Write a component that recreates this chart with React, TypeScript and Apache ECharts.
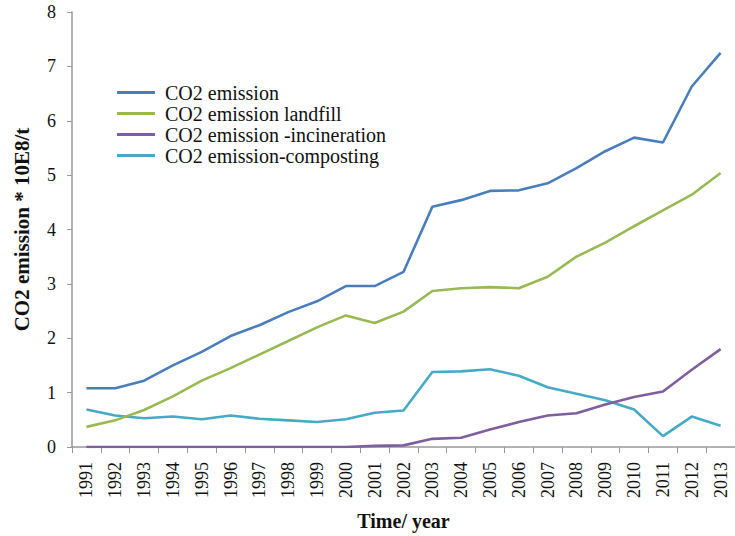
import React, { useEffect, useRef } from "react";
import * as echarts from "echarts";

const years = ["1991","1992","1993","1994","1995","1996","1997","1998","1999","2000","2001","2002","2003","2004","2005","2006","2007","2008","2009","2010","2011","2012","2013"];
const co2Total = [1.08,1.08,1.22,1.5,1.75,2.04,2.24,2.48,2.68,2.96,2.96,3.22,4.42,4.54,4.71,4.72,4.85,5.13,5.44,5.69,5.6,6.63,7.25];
const co2Landfill = [0.37,0.49,0.68,0.93,1.22,1.45,1.7,1.95,2.2,2.42,2.28,2.49,2.87,2.92,2.94,2.92,3.13,3.5,3.76,4.06,4.35,4.64,5.04];
const co2Incineration = [0,0,0,0,0,0,0,0,0,0,0.02,0.03,0.15,0.17,0.32,0.46,0.58,0.62,0.78,0.92,1.02,1.42,1.8];
const co2Composting = [0.69,0.58,0.53,0.56,0.51,0.58,0.52,0.49,0.46,0.51,0.63,0.67,1.38,1.39,1.43,1.31,1.1,0.98,0.86,0.69,0.2,0.56,0.39];
const seriesNames = ["CO2 emission","CO2 emission landfill","CO2 emission -incineration","CO2 emission-composting"];
const colors = ["#4A7EBB","#98B954","#7D5FA0","#46AAC5"];
const yTicks = [0,1,2,3,4,5,6,7,8];

const FONT = "'Liberation Serif', 'Times New Roman', serif";

export default function App() {
  const ref = useRef<HTMLDivElement>(null);
  useEffect(() => {
    if (!ref.current) return;
    const chart = echarts.init(ref.current, undefined, { renderer: "svg" });
    const data = [co2Total, co2Landfill, co2Incineration, co2Composting];
    chart.setOption({
      animation: false,
      backgroundColor: "#ffffff",
      textStyle: { fontFamily: FONT },
      grid: { left: 72, right: -8, top: 12, bottom: 88, containLabel: false },
      legend: {
        orient: "vertical",
        left: 117,
        top: 82,
        padding: 0,
        icon: "rect",
        itemWidth: 38,
        itemHeight: 3,
        itemGap: 0,
        textStyle: { fontFamily: FONT, fontSize: 20, lineHeight: 21, color: "#111", padding: [0, 0, 0, 5] },
        data: seriesNames,
      },
      xAxis: {
        type: "category",
        data: years,
        boundaryGap: true,
        name: "Time/ year",
        nameLocation: "middle",
        nameGap: 64,
        nameTextStyle: { fontFamily: FONT, fontSize: 20, fontWeight: "bold", color: "#111" },
        axisLine: { lineStyle: { color: "#999", width: 1.5 } },
        axisTick: { show: true, length: 6, lineStyle: { color: "#999" } },
        axisLabel: { rotate: 90, fontFamily: FONT, fontSize: 18, color: "#111", margin: 15, interval: 0 },
        splitLine: { show: false },
      },
      yAxis: {
        type: "value",
        min: yTicks[0],
        max: yTicks[yTicks.length - 1],
        interval: 1,
        name: "CO2 emission * 10E8/t",
        nameLocation: "middle",
        nameGap: 40,
        nameRotate: 90,
        nameTextStyle: { fontFamily: FONT, fontSize: 21, fontWeight: "bold", color: "#111" },
        axisLine: { show: true, lineStyle: { color: "#999", width: 1.5 } },
        axisTick: { show: true, length: 5, lineStyle: { color: "#999" } },
        axisLabel: { fontFamily: FONT, fontSize: 18, color: "#111", margin: 16 },
        splitLine: { show: false },
      },
      series: seriesNames.map((name, i) => ({
        name,
        type: "line",
        data: data[i],
        symbol: "none",
        showSymbol: false,
        color: colors[i],
        lineStyle: { color: colors[i], width: 2.6 },
        itemStyle: { color: colors[i] },
        z: 10 - i,
      })),
    });
    return () => chart.dispose();
  }, []);
  return (
    <div
      ref={ref}
      style={{ position: "absolute", left: 0, top: 0, width: 735, height: 536, background: "#fff" }}
    />
  );
}
